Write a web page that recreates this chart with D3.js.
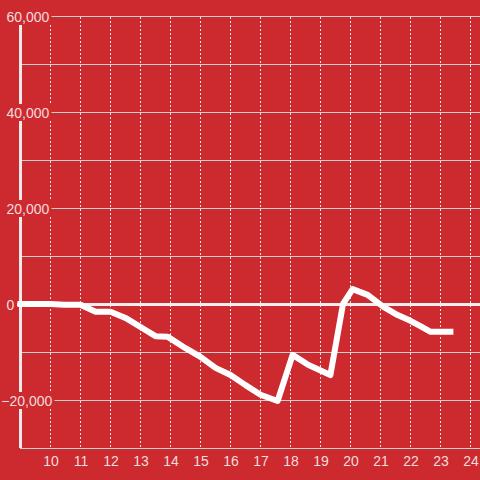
<!DOCTYPE html>
<html><head><meta charset="utf-8">
<script src="https://cdn.jsdelivr.net/npm/d3@7"></script>
<style>
html,body{margin:0;padding:0;background:#cc2a2f;}
svg{display:block;}
text{font-family:"Liberation Sans",Arial,sans-serif;font-size:14px;fill:#f3dcdc;}
</style></head>
<body>
<svg id="chart" width="480" height="480"></svg>
<script>
const hours = [9, 9.5, 10, 10.45, 11, 11.5, 12, 12.5, 13, 13.5, 13.9, 14.5, 15, 15.5, 16, 16.5, 17, 17.57, 18.07, 18.6, 19.33, 19.75, 20.07, 20.57, 21.1, 21.57, 22, 22.33, 22.67, 23.33];
const values = [0, 0, 0, -150, -150, -1600, -1600, -2900, -4800, -6700, -6800, -9200, -11000, -13300, -14800, -16900, -18900, -20200, -10600, -12700, -14800, 0, 3100, 1900, -600, -2300, -3500, -4600, -5800, -5800];
const xTicks = [10, 11, 12, 13, 14, 15, 16, 17, 18, 19, 20, 21, 22, 23, 24];
const yGrid = [-30000, -20000, -10000, 10000, 20000, 30000, 40000, 50000, 60000];
const yLabels = [-20000, 0, 20000, 40000, 60000];

const W = 480, H = 480;
const svg = d3.select("#chart");
svg.append("rect").attr("width", W).attr("height", H).attr("fill", "#cc2a2f");

const x = d3.scaleLinear().domain([9, 9 + 460 / 30]).range([20.5, 480.5]);
const y = d3.scaleLinear().domain([-30000, 60000]).range([448, 16]);

// horizontal gridlines
svg.append("g").selectAll("line").data(yGrid).join("line")
  .attr("x1", 20).attr("x2", W)
  .attr("y1", d => y(d) + 0.5).attr("y2", d => y(d) + 0.5)
  .attr("stroke", "#cfcfcf").attr("stroke-width", 1);

// vertical dotted gridlines
svg.append("g").selectAll("line").data(xTicks).join("line")
  .attr("x1", d => x(d)).attr("x2", d => x(d))
  .attr("y1", y(60000) + 1).attr("y2", y(-30000))
  .attr("stroke", "#e6e6e6").attr("stroke-width", 1)
  .attr("stroke-dasharray", "2,2");

// zero line
svg.append("line")
  .attr("x1", 17).attr("x2", W)
  .attr("y1", y(0) + 0.5).attr("y2", y(0) + 0.5)
  .attr("stroke", "#f0eeee").attr("stroke-width", 3);

// y axis line
svg.append("line")
  .attr("x1", 20.5).attr("x2", 20.5)
  .attr("y1", 24).attr("y2", y(-30000))
  .attr("stroke", "#efebeb").attr("stroke-width", 3);

// y labels with background
const fmt = d3.format(",");
const lab = svg.append("g").selectAll("g").data(yLabels).join("g");
lab.each(function(d) {
  const g = d3.select(this);
  const t = g.append("text")
    .attr("x", d < 0 ? 6 - 4.7 : 6.5)
    .attr("y", y(d) + 0.5)
    .attr("dominant-baseline", "central")
    .text(fmt(d));
  const bb = t.node().getBBox();
  g.insert("rect", "text")
    .attr("x", bb.x - 2).attr("y", y(d) - 8)
    .attr("width", bb.width + 4).attr("height", 17)
    .attr("fill", "#cc2a2f");
});

// x labels
svg.append("g").selectAll("text").data(xTicks).join("text")
  .attr("x", d => x(d) + 0.5)
  .attr("y", 466)
  .attr("text-anchor", "middle")
  .text(d => d);

// data line
const line = d3.line().x((d, i) => x(hours[i])).y(d => y(d));
svg.append("path")
  .datum(values)
  .attr("d", line)
  .attr("fill", "none")
  .attr("stroke", "#ffffff")
  .attr("stroke-width", 6)
  .attr("stroke-linecap", "square")
  .attr("stroke-linejoin", "round");
</script>
</body></html>
